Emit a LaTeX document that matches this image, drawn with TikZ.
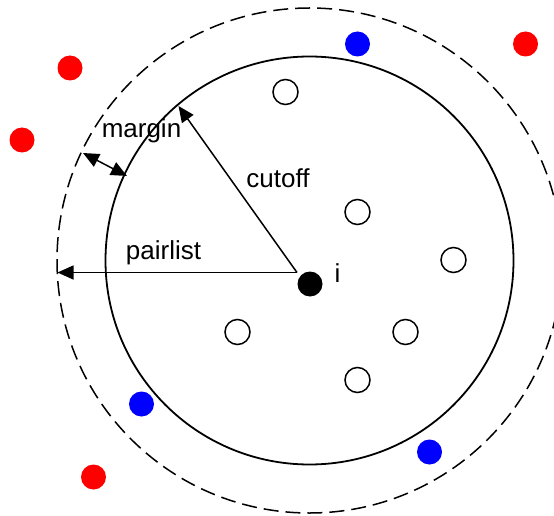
\documentclass[tikz,border=0pt]{standalone}
\usepackage{fontspec}
\setmainfont{Liberation Sans}
\usetikzlibrary{arrows.meta}
\begin{document}
\begin{tikzpicture}[
  x=1pt, y=-1pt,
  atom/.style={circle, inner sep=0pt, minimum size=25pt},
  near/.style={atom, draw, line width=1.5pt, fill=white},
  listed/.style={atom, fill=blue},
  far/.style={atom, fill=red},
  lbl/.style={font=\fontsize{26}{30}\selectfont, inner sep=0pt, anchor=base},
  radius arrow/.style={line width=1.5pt, -{Triangle[length=16pt, width=14pt]}}
]
\useasboundingbox (0,0) rectangle (554,516);
% cutoff sphere and pairlist sphere
\coordinate (ctr) at (309.5,260.5);
\draw[line width=1.8pt] (ctr) circle[radius=204pt];
\draw[line width=1.5pt, dash pattern=on 15pt off 7pt] (ctr) circle[radius=252.5pt];
% radii
\coordinate (o) at (297,272.5);
\coordinate (cut) at (178.5,106);
\coordinate (pl) at (57.5,272.5);
\coordinate (m1) at (83,153);
\coordinate (m2) at (127,176);
\draw[radius arrow] (o) -- (cut);
\draw[radius arrow] (o) -- (pl);
\draw[radius arrow, {Triangle[length=16pt, width=14pt]}-{Triangle[length=16pt, width=14pt]}] (m1) -- (m2);
\node[lbl] (margin) at (141.5,138) {margin};
\node[lbl] (cutoff) at (278,187) {cutoff};
\node[lbl] (pairlist) at (163.5,259) {pairlist};
% particle i
\node[atom, fill=black] (i) at (310,284) {};
\node[lbl] (ilbl) at (337.5,282) {i};
% within cutoff
\node[near] (n1) at (285.5,92) {};
\node[near] (n2) at (357.5,212) {};
\node[near] (n3) at (453.5,260) {};
\node[near] (n4) at (237.5,332) {};
\node[near] (n5) at (405.5,332) {};
\node[near] (n6) at (357.5,380) {};
% within margin
\node[listed] (b1) at (357.5,44) {};
\node[listed] (b2) at (141.5,404) {};
\node[listed] (b3) at (429.5,452) {};
% outside pairlist
\node[far] (r1) at (70,68) {};
\node[far] (r2) at (22,140) {};
\node[far] (r3) at (525.5,44) {};
\node[far] (r4) at (93.5,477) {};
\end{tikzpicture}
\end{document}
